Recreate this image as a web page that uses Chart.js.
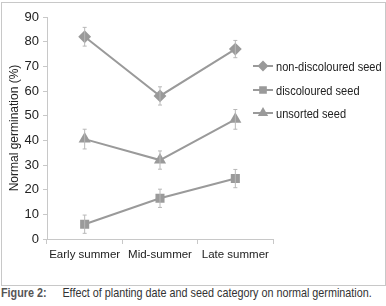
<!DOCTYPE html>
<html>
<head>
<meta charset="utf-8">
<script src="https://cdn.jsdelivr.net/npm/chart.js@4/dist/chart.umd.min.js"></script>
<style>
  body { margin: 0; background: #fff; width: 386px; height: 306px; overflow: hidden; }
  #box { position: absolute; left: 1px; top: 2px; width: 383px; height: 282px; border: 1px solid #c8c8c8; }
  #chart { position: absolute; left: 0; top: 0; }
  #caption { position: absolute; left: 1px; top: 285px; font-family: "Liberation Sans", Arial, sans-serif; font-size: 13px; color: #333; white-space: nowrap; transform: scaleX(0.83); transform-origin: left top; }
  #caption b { color: #555; display: inline-block; width: 74px; }
</style>
</head>
<body>
<div id="box"></div>
<canvas id="chart" width="386" height="284"></canvas>
<div id="caption"><b>Figure 2:</b>Effect of planting date and seed category on normal germination.</div>
<script>
var categories = ["Early summer", "Mid-summer", "Late summer"];
var seriesNames = ["non-discoloured seed", "discoloured seed", "unsorted seed"];
var nonDiscoloured = [82, 58, 77];
var nonDiscolouredErr = [3.8, 3.7, 3.5];
var discoloured = [6, 16.5, 24.5];
var discolouredErr = [3.7, 3.7, 3.7];
var unsorted = [40.5, 32, 48.5];
var unsortedErr = [4, 3.7, 4];
var yTicks = [0, 10, 20, 30, 40, 50, 60, 70, 80, 90];

var fontName = '"Liberation Sans", Arial, sans-serif';
var grey = "#9a9a9a";

var errorBars = {
  id: "errorBars",
  afterDatasetsDraw: function (chart) {
    var ctx = chart.ctx;
    var yScale = chart.scales.y;
    ctx.save();
    ctx.strokeStyle = "#b8b8b8";
    ctx.lineWidth = 1;
    chart.data.datasets.forEach(function (ds, d) {
      var meta = chart.getDatasetMeta(d);
      meta.data.forEach(function (pt, i) {
        var v = ds.data[i];
        var e = ds.errors[i];
        var top = yScale.getPixelForValue(v + e);
        var bot = yScale.getPixelForValue(v - e);
        ctx.beginPath();
        ctx.moveTo(pt.x, top);
        ctx.lineTo(pt.x, bot);
        ctx.moveTo(pt.x - 2, top);
        ctx.lineTo(pt.x + 2, top);
        ctx.moveTo(pt.x - 2, bot);
        ctx.lineTo(pt.x + 2, bot);
        ctx.stroke();
      });
    });
    ctx.restore();
  }
};

var sideLegend = {
  id: "sideLegend",
  afterDraw: function (chart) {
    var ctx = chart.ctx;
    var x0 = chart.chartArea.right - 20;
    var rows = [66, 90, 113];
    ctx.save();
    chart.data.datasets.forEach(function (ds, d) {
      var y = rows[d];
      ctx.strokeStyle = grey;
      ctx.lineWidth = 2;
      ctx.beginPath();
      ctx.moveTo(x0, y);
      ctx.lineTo(x0 + 20, y);
      ctx.stroke();
      Chart.helpers.drawPoint(ctx, {
        pointStyle: ds.pointStyle,
        radius: ds.pointRadius - 1,
        borderWidth: 1
      }, x0 + 10, y);
      ctx.fillStyle = grey;
      ctx.fill();
      ctx.save();
      ctx.translate(x0 + 23, y + 1);
      ctx.scale(0.85, 1);
      ctx.fillStyle = "#222";
      ctx.font = "13px " + fontName;
      ctx.textBaseline = "middle";
      ctx.fillText(ds.label, 0, 0);
      ctx.restore();
    });
    ctx.restore();
  }
};

var ctx0 = document.getElementById("chart");
var myChart = new Chart(ctx0, {
  type: "line",
  data: {
    labels: categories,
    datasets: [
      { label: seriesNames[0], data: nonDiscoloured, errors: nonDiscolouredErr, pointStyle: "rectRot", pointRadius: 5 },
      { label: seriesNames[1], data: discoloured, errors: discolouredErr, pointStyle: "rect", pointRadius: 5 },
      { label: seriesNames[2], data: unsorted, errors: unsortedErr, pointStyle: "triangle", pointRadius: 5 }
    ].map(function (ds) {
      ds.borderColor = grey;
      ds.backgroundColor = grey;
      ds.pointBackgroundColor = grey;
      ds.pointBorderColor = grey;
      ds.borderWidth = 2;
      ds.fill = false;
      ds.tension = 0;
      return ds;
    })
  },
  options: {
    responsive: false,
    animation: false,
    layout: { padding: { left: 7, right: 113, top: 17, bottom: 0 } },
    plugins: { legend: { display: false }, tooltip: { enabled: false } },
    scales: {
      x: {
        offset: true,
        afterFit: function (scale) { scale.height = 45; },
        grid: { offset: true, drawOnChartArea: false, drawTicks: true, tickLength: 5, color: "#c8c8c8" },
        border: { color: "#c8c8c8" },
        ticks: { color: "#222", font: { family: fontName, size: 11.5 }, padding: 4, maxRotation: 0, autoSkip: false }
      },
      y: {
        min: 0,
        max: 90,
        afterFit: function (scale) { scale.width = 40; },
        afterBuildTicks: function (axis) {
          axis.ticks = yTicks.map(function (v) { return { value: v }; });
        },
        grid: { drawOnChartArea: false, drawTicks: true, tickLength: 4, color: "#c8c8c8" },
        border: { color: "#c8c8c8" },
        ticks: { color: "#222", font: { family: fontName, size: 13 }, padding: 4 },
        title: { display: true, text: "Normal germination (%)", color: "#222", font: { family: fontName, size: 12 }, padding: 0 }
      }
    }
  },
  plugins: [errorBars, sideLegend]
});
</script>
</body>
</html>
